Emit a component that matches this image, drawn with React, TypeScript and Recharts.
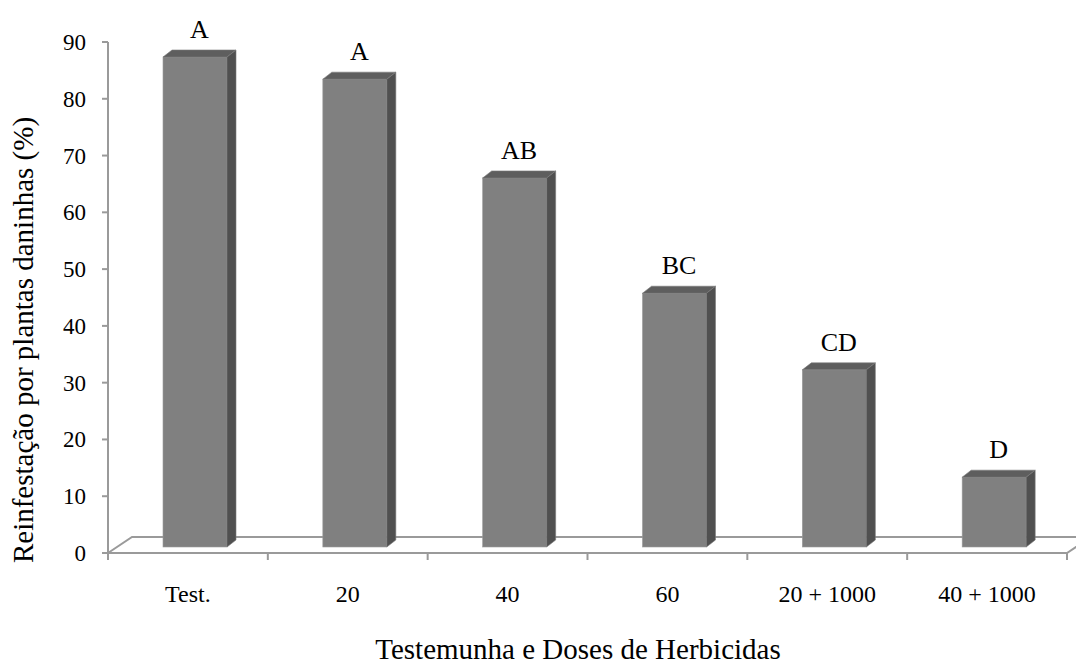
import React from 'react';
import { BarChart, Bar, XAxis, YAxis, ReferenceLine, LabelList, Label } from 'recharts';

const categories = ['Test.', '20', '40', '60', '20 + 1000', '40 + 1000'];
const reinfestation = [86.3, 82.4, 65.0, 44.7, 31.2, 12.3];
const letters = ['A', 'A', 'AB', 'BC', 'CD', 'D'];
const yTicks = [0, 10, 20, 30, 40, 50, 60, 70, 80, 90];

const data = categories.map((c, i) => ({ name: c, value: reinfestation[i], letter: letters[i] }));

const FONT = "'Liberation Serif', 'Times New Roman', serif";
const W = 1076;
const H = 668;
const MARGIN = { top: 42, right: 9, bottom: 55, left: 0 };
const Y_AXIS_W = 108;
const X_AXIS_H = 60;
const PLOT_W = W - MARGIN.left - MARGIN.right - Y_AXIS_W;
const BAND = PLOT_W / categories.length;

// 3D styling
const OX = 7; // bar offset into depth
const OY = -6;
const DX = 9; // bar depth
const DY = 7;
const FLOOR_DX = 24;
const FLOOR_DY = 16;

const Bar3D = (props: any) => {
  const { x, y, width, height } = props;
  if (height == null || width == null) return null;
  const fx = x + OX;
  const fy = y + OY;
  const top = `${fx},${fy} ${fx + DX},${fy - DY} ${fx + width + DX},${fy - DY} ${fx + width},${fy}`;
  const side = `${fx + width},${fy} ${fx + width + DX},${fy - DY} ${fx + width + DX},${fy + height - DY} ${fx + width},${fy + height}`;
  return (
    <g>
      <rect x={fx} y={fy} width={width} height={height} fill="#808080" stroke="#9a9a9a" strokeWidth={0.6} />
      <polygon points={top} fill="#5e5e5e" stroke="#7a7a7a" strokeWidth={0.6} />
      <polygon points={side} fill="#505050" stroke="#7a7a7a" strokeWidth={0.6} />
    </g>
  );
};

const LetterLabel = (props: any) => {
  const { x, y, width, value } = props;
  return (
    <text
      x={x + width / 2 + OX + DX / 2}
      y={y + OY - DY - 12}
      textAnchor="middle"
      fontFamily={FONT}
      fontSize={26}
      fill="#000"
    >
      {value}
    </text>
  );
};

const Floor = (props: any) => {
  const { x1, y1, x2 } = props;
  const left = Math.min(x1, x2);
  const right = Math.max(x1, x2);
  const pts = `${left},${y1} ${left + FLOOR_DX},${y1 - FLOOR_DY} ${right + FLOOR_DX},${y1 - FLOOR_DY} ${right},${y1}`;
  return <polygon points={pts} fill="#ffffff" stroke="#9a9a9a" strokeWidth={2} />;
};

const XTick = (props: any) => {
  const { x, y, payload, index } = props;
  const half = BAND / 2;
  return (
    <g>
      <line x1={x - half} y1={y} x2={x - half} y2={y + 7} stroke="#9a9a9a" strokeWidth={2} />
      {index === categories.length - 1 && (
        <line x1={x + half} y1={y} x2={x + half} y2={y + 7} stroke="#9a9a9a" strokeWidth={2} />
      )}
      <text x={x} y={y + 49} textAnchor="middle" fontFamily={FONT} fontSize={24} fill="#000">
        {payload.value}
      </text>
    </g>
  );
};

const YTick = (props: any) => {
  const { x, y, payload } = props;
  return (
    <text x={x} y={y} dy="0.35em" textAnchor="end" fontFamily={FONT} fontSize={23} fill="#000">
      {payload.value}
    </text>
  );
};

const YTitle = (props: any) => {
  const { viewBox } = props;
  const cx = viewBox.x + 33;
  const cy = 340;
  return (
    <text
      x={cx}
      y={cy}
      transform={`rotate(-90 ${cx} ${cy})`}
      textAnchor="middle"
      fontFamily={FONT}
      fontSize={29}
      fill="#000"
    >
      Reinfestação por plantas daninhas (%)
    </text>
  );
};

const XTitle = (props: any) => {
  const { viewBox } = props;
  return (
    <text
      x={viewBox.x + 470}
      y={viewBox.y + 106}
      textAnchor="middle"
      fontFamily={FONT}
      fontSize={29}
      fill="#000"
    >
      Testemunha e Doses de Herbicidas
    </text>
  );
};

export default function App() {
  return (
    <div style={{ position: 'absolute', left: 0, top: 0, width: W, height: H, background: '#fff' }}>
      <BarChart width={W} height={H} data={data} margin={MARGIN} barCategoryGap={0}>
        <ReferenceLine y={0} shape={Floor} ifOverflow="visible" zIndex={-50} />
        <XAxis
          dataKey="name"
          height={X_AXIS_H}
          axisLine={{ stroke: '#9a9a9a', strokeWidth: 2 }}
          tickLine={false}
          tickSize={0}
          tickMargin={0}
          tick={<XTick />}
          interval={0}
        >
          <Label content={<XTitle />} />
        </XAxis>
        <YAxis
          width={Y_AXIS_W}
          domain={[0, 90]}
          ticks={yTicks}
          interval={0}
          axisLine={{ stroke: '#9a9a9a', strokeWidth: 2 }}
          tickLine={{ stroke: '#9a9a9a', strokeWidth: 2 }}
          tickSize={6}
          tickMargin={16}
          tick={<YTick />}
        >
          <Label content={<YTitle />} />
        </YAxis>
        <Bar dataKey="value" barSize={64} shape={<Bar3D />} isAnimationActive={false}>
          <LabelList dataKey="letter" content={<LetterLabel />} />
        </Bar>
      </BarChart>
    </div>
  );
}
